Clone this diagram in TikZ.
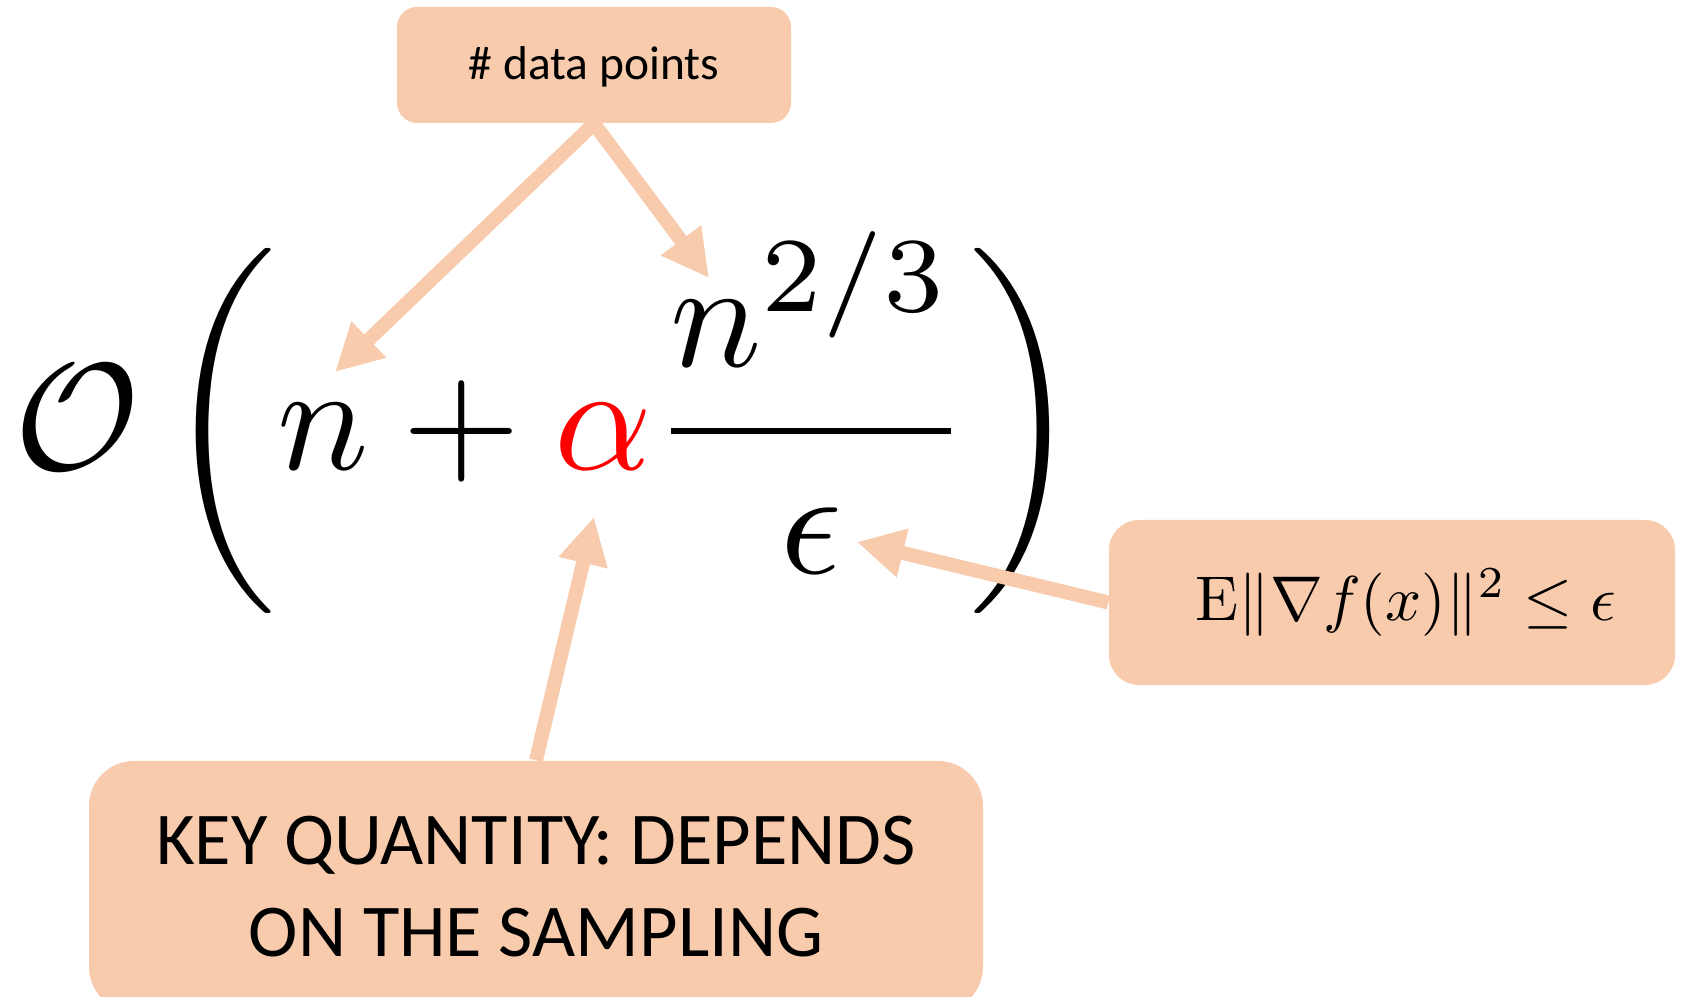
\documentclass[tikz,border=0pt]{standalone}
\usepackage{amsmath,amssymb}
\usepackage{graphicx}
\usepackage{fontspec}
\newfontfamily\calibri{Carlito}
\usepackage{tikz}
\usetikzlibrary{arrows.meta,positioning}
\definecolor{notePeach}{RGB}{248,203,173}
\definecolor{noteRed}{RGB}{255,0,0}

\tikzset{
  notebox/.style={fill=notePeach, rounded corners=#1, inner sep=0pt},
  notebox/.default=0.2cm,
  pointer/.style={draw=notePeach, line width=0.14cm, -{Triangle[length=0.47cm,width=0.47cm]}}
}

\begin{document}
\begin{tikzpicture}
    \clip (0,0) rectangle (16.88,9.97);

    % the bound
    \node[anchor=base, inner sep=0pt] (bound) at (5.48,5.275)
        {\scalebox{4.33}{$\displaystyle \mathcal{O}\left(n + {\color{noteRed}\alpha}\frac{n^{2/3}}{\epsilon}\right)$}};

    % where the pointers land
    \coordinate (nTip) at (3.35,6.25);
    \coordinate (fracTip) at (7.09,7.19);
    \coordinate (alphaTip) at (5.94,4.80);
    \coordinate (epsTip) at (8.57,4.55);

    % notes
    \node[notebox=0.2cm, minimum width=3.94cm, minimum height=1.16cm,
          font=\calibri\fontsize{13.5}{16}\selectfont] (datapts) at (5.94,9.32)
        {\raisebox{-0.15cm}[0pt][0pt]{\# data points}};
    \node[notebox=0.3cm, minimum width=5.66cm, minimum height=1.65cm] (gradnorm) at (13.92,3.945)
        {\hspace*{0.28cm}\scalebox{1.8}{$\mathrm{E}\|\nabla f(x)\|^2 \leq \epsilon$}};
    \node[notebox=0.45cm, minimum width=8.94cm, minimum height=2.51cm, align=center,
          font=\calibri\fontsize{21.2}{26}\selectfont] (keyqty) at (5.36,1.105)
        {KEY QUANTITY: DEPENDS\\ON THE SAMPLING};

    % pointers
    \draw[pointer] (datapts.south) -- (nTip);
    \draw[pointer] (datapts.south) -- (fracTip);
    \draw[pointer] (keyqty.north) -- (alphaTip);
    \draw[pointer] (gradnorm.west) -- (epsTip);
\end{tikzpicture}
\end{document}
